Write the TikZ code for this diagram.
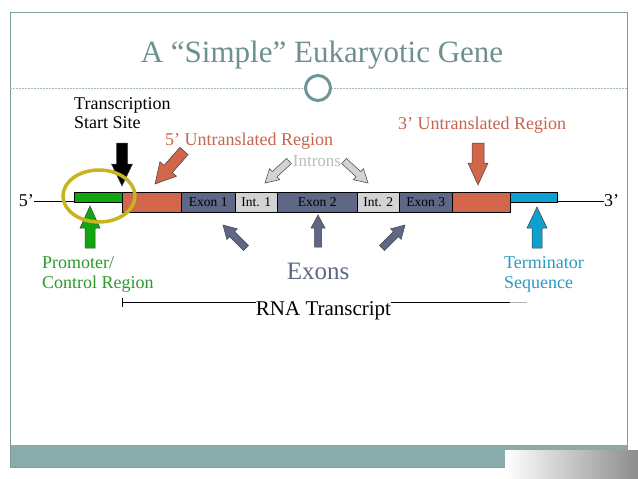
\documentclass[tikz,border=0pt]{standalone}
\usepackage{fontspec}
\setmainfont{Liberation Serif}
\usetikzlibrary{calc}
\definecolor{frame}{HTML}{7E9E9E}
\definecolor{band}{HTML}{8AABAB}
\definecolor{titlec}{HTML}{6E9090}
\definecolor{ringc}{HTML}{6F9696}
\definecolor{redfill}{HTML}{D2664A}
\definecolor{redtext}{HTML}{C5654D}
\definecolor{exonfill}{HTML}{5E6785}
\definecolor{intfill}{HTML}{D3D3D3}
\definecolor{greenc}{HTML}{12A512}
\definecolor{greent}{HTML}{2A9A2A}
\definecolor{bluec}{HTML}{10A0D0}
\definecolor{bluet}{HTML}{2A9AC8}
\definecolor{introntext}{HTML}{BBBBBB}
\definecolor{yellowc}{HTML}{C8B41E}
\newcommand\blockarrow[6]{%
  \coordinate (bt) at #3; \coordinate (bs) at #2;
  \coordinate (bh) at ($(bt)!#6!(bs)$);
  \filldraw[#1] (bt) -- ($(bh)!#5!90:(bt)$) -- ($(bh)!#4!90:(bt)$) -- ($(bs)!#4!90:(bt)$)
    -- ($(bs)!#4!-90:(bt)$) -- ($(bh)!#4!-90:(bt)$) -- ($(bh)!#5!-90:(bt)$) -- cycle;}
\tikzset{
  lbl/.style={inner sep=0pt, font=\fontsize{18}{20}\selectfont},
  boxlbl/.style={inner sep=0pt, font=\fontsize{13.5}{15}\selectfont, text=black},
  genebox/.style={draw=black, line width=0.6pt},
  arr/.style={draw=black!75, line width=0.5pt},
}
\begin{document}
\begin{tikzpicture}[x=1pt,y=-1pt]
\useasboundingbox (0,0) rectangle (638,479);
\fill[white] (0,0) rectangle (638,479);
% frame
\fill[band] (10,445) rectangle (627,467);
\draw[frame, line width=0.8pt] (10,467) -- (10,12) -- (627,12) -- (627,467);
\draw[frame, line width=0.6pt] (10,467) -- (627,467);
\shade[left color=white, right color=black!45] (505,450) rectangle (638,479);
% title
\node[inner sep=0pt, anchor=base, text=titlec, font=\fontsize{31}{34}\selectfont] (title) at (322,62) {A “Simple” Eukaryotic Gene};
\draw[frame!70, dash pattern=on 2pt off 1pt, line width=0.5pt] (10,88) -- (305,88);
\draw[frame!70, dash pattern=on 2pt off 1pt, line width=0.5pt] (331,88) -- (627,88);
\node[draw=ringc, line width=3pt, circle, minimum size=25pt, inner sep=0pt] (ring) at (318,88) {};
% gene line
\node[lbl, anchor=east] (five) at (34,201) {5’};
\node[lbl, anchor=west] (three) at (604,201) {3’};
\draw[line width=0.8pt] (five.east) -- (three.west);
% boxes
\node[genebox, fill=greenc, minimum width=48pt, minimum height=10pt, inner sep=0pt, anchor=north west] (prom) at (74,191.5) {};
\node[genebox, fill=redfill, minimum width=59pt, minimum height=20pt, inner sep=0pt, anchor=north west] (utr5) at (122,192) {};
\node[genebox, fill=exonfill, minimum width=54pt, minimum height=20pt, inner sep=0pt, anchor=north west] (ex1) at (181,192) {};
\node[genebox, fill=intfill, minimum width=42pt, minimum height=20pt, inner sep=0pt, anchor=north west] (in1) at (235,192) {};
\node[genebox, fill=exonfill, minimum width=80pt, minimum height=20pt, inner sep=0pt, anchor=north west] (ex2) at (277,192) {};
\node[genebox, fill=intfill, minimum width=42pt, minimum height=20pt, inner sep=0pt, anchor=north west] (in2) at (357,192) {};
\node[genebox, fill=exonfill, minimum width=53pt, minimum height=20pt, inner sep=0pt, anchor=north west] (ex3) at (399,192) {};
\node[genebox, fill=redfill, minimum width=58pt, minimum height=20pt, inner sep=0pt, anchor=north west] (utr3) at (452,192) {};
\node[genebox, fill=bluec, minimum width=47pt, minimum height=10pt, inner sep=0pt, anchor=north west] (term) at (510,192) {};
\node[boxlbl] at (ex1) {Exon 1};
\node[boxlbl] at (in1) {Int. 1};
\node[boxlbl] at (ex2) {Exon 2};
\node[boxlbl] at (in2) {Int. 2};
\node[boxlbl] at (ex3) {Exon 3};
% arrows
\blockarrow{arr, fill=black}{(122,143)}{(122,186)}{5.5pt}{10.5pt}{22pt}
\blockarrow{arr, fill=greenc}{(90,248)}{(90,206)}{5pt}{10pt}{22pt}
\blockarrow{arr, fill=redfill}{(184,151)}{(155,184)}{5.5pt}{11pt}{20pt}
\blockarrow{arr, fill=intfill}{(289,161)}{(265,183)}{3.5pt}{7.5pt}{13pt}
\blockarrow{arr, fill=intfill}{(344,161)}{(368,183)}{3.5pt}{7.5pt}{13pt}
\blockarrow{arr, fill=exonfill}{(246,248)}{(223,225)}{3.5pt}{7.5pt}{13pt}
\blockarrow{arr, fill=exonfill}{(318,247)}{(318,215)}{3.5pt}{7pt}{13pt}
\blockarrow{arr, fill=exonfill}{(382,248)}{(405,225)}{3.5pt}{7.5pt}{13pt}
\blockarrow{arr, fill=redfill}{(478,143)}{(478,185)}{6pt}{10pt}{22pt}
\blockarrow{arr, fill=bluec}{(537,248)}{(537,207)}{5pt}{10pt}{21pt}
% highlight ellipse
\draw[yellowc, line width=3.5pt] (99,196) ellipse [x radius=36pt, y radius=26pt];
% labels
\node[lbl, anchor=base west] (ts1) at (74,109) {Transcription};
\node[lbl, anchor=base west] (ts2) at (74,128) {Start Site};
\node[lbl, anchor=base west, text=redtext] (u5) at (165,145) {5’ Untranslated Region};
\node[lbl, anchor=base west, text=redtext] (u3) at (398,129) {3’ Untranslated Region};
\node[inner sep=0pt, anchor=base, text=introntext, font=\fontsize{17}{19}\selectfont] (introns) at (317,166) {Introns};
\node[lbl, anchor=base west, text=greent] (p1) at (42,268) {Promoter/};
\node[lbl, anchor=base west, text=greent] (p2) at (42,288) {Control Region};
\node[inner sep=0pt, anchor=base, text=exonfill, font=\fontsize{25}{28}\selectfont] (exons) at (318,279) {Exons};
\node[lbl, anchor=base west, text=bluet] (t1) at (504,268) {Terminator};
\node[lbl, anchor=base west, text=bluet] (t2) at (504,288) {Sequence};
% RNA transcript
\coordinate (rnaL) at (122,302);
\coordinate (rnaM) at (510,302);
\coordinate (rnaR) at (527,302);
\draw[line width=0.6pt] (rnaL) -- (rnaM);
\draw[line width=0.6pt, black!30] (rnaM) -- (rnaR);
\draw[line width=0.6pt] ($(rnaL)+(0,-4)$) -- ($(rnaL)+(0,4.5)$);
\node[inner sep=0pt, fill=white, anchor=base, font=\fontsize{21}{23}\selectfont] (rna) at (323.5,315) {RNA Transcript};
\end{tikzpicture}
\end{document}
